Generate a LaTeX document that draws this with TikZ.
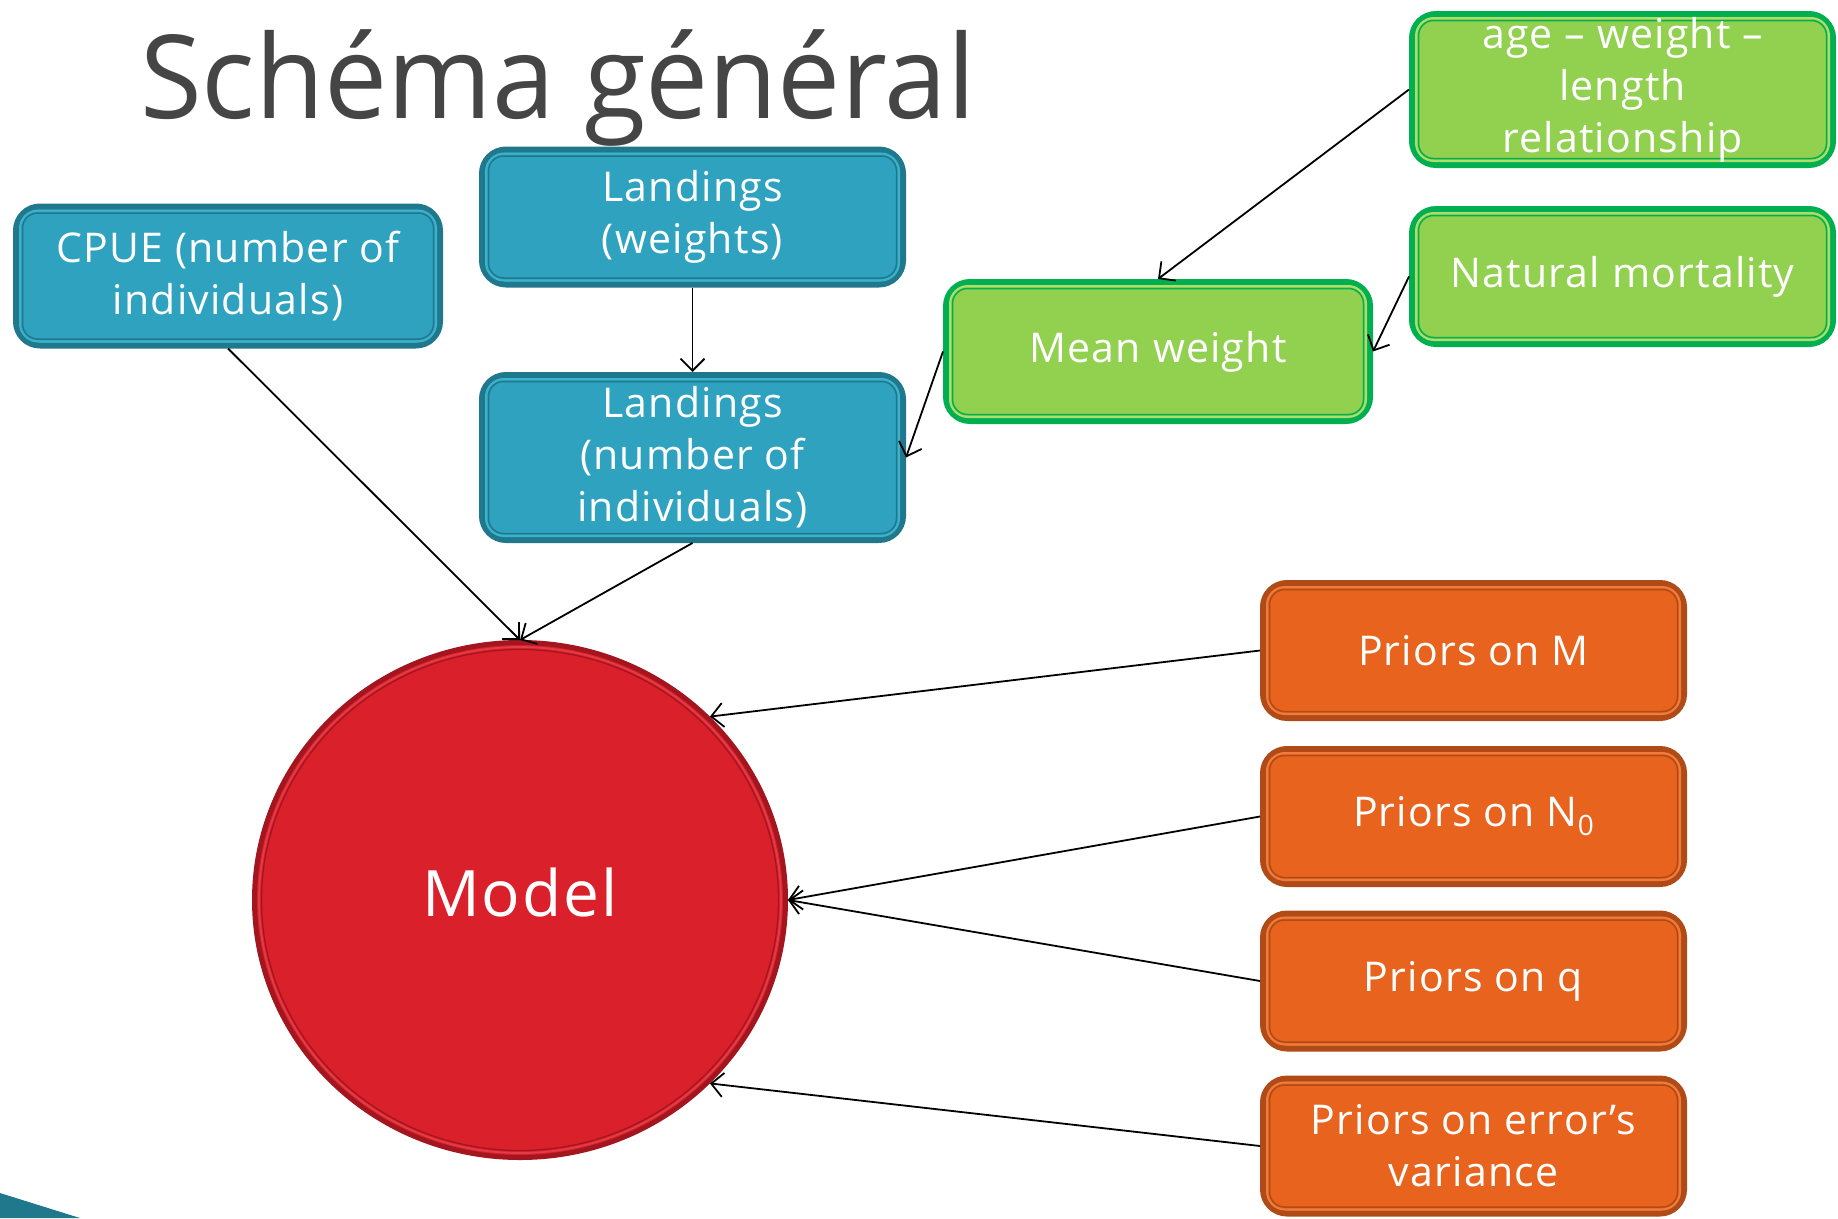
\documentclass[tikz,border=0pt]{standalone}
\usepackage{fontspec}
\setmainfont[LetterSpace=3]{Open Sans}
\newfontfamily\titlefont[FakeStretch=0.97]{Open Sans}
\usetikzlibrary{arrows.meta,shapes.geometric}
\definecolor{cTF}{HTML}{2EA2BF}
\definecolor{cTD}{HTML}{1F788B}
\definecolor{cTL}{HTML}{3DB2CC}
\definecolor{cGF}{HTML}{92D050}
\definecolor{cGD}{HTML}{00B050}
\definecolor{cGL}{HTML}{ADDD6C}
\definecolor{cOF}{HTML}{E8641E}
\definecolor{cOD}{HTML}{B04A16}
\definecolor{cOL}{HTML}{EF7C3C}
\definecolor{cRF}{HTML}{D9202B}
\definecolor{cRD}{HTML}{A3161F}
\definecolor{cRL}{HTML}{E23C46}
\definecolor{titlegray}{HTML}{454545}
\newcommand\drawbox[7]{%
  \node[bx, fill=#2F, draw=#2D, minimum width=#5-6, minimum height=#6-6] (#1) at (#3,-#4) {};
  \draw[#2L, line width=2pt, rounded corners=18pt] ([shift={(7,-7)}]#1.north west) rectangle ([shift={(-7,7)}]#1.south east);
  \draw[#2D, line width=1.5pt, rounded corners=15pt] ([shift={(9.5,-9.5)}]#1.north west) rectangle ([shift={(-9.5,9.5)}]#1.south east);
  \node[lbl] (#1t) at (#1) {#7};
}
\begin{document}
\begin{tikzpicture}[x=1pt,y=1pt,
  bx/.style={rectangle, rounded corners=24pt, line width=6pt, inner sep=0pt},
  lbl/.style={text=white, align=center, font=\fontsize{41}{52}\selectfont, inner sep=0pt},
  conn/.style={line width=1.8pt, -{Straight Barb[length=12pt,width=24pt]}}
]
\useasboundingbox (0,0) rectangle (1838,-1218);

% title
\node[anchor=base west, text=titlegray, inner sep=0pt,
      font=\titlefont\fontsize{116}{120}\selectfont] (title) at (140,-118) {Schéma général};

% slide decoration
\fill[cTD] (0,-1193) -- (80,-1218) -- (0,-1218) -- cycle;

% boxes
\drawbox{cpue}{cT}{228}{276}{430}{145}{CPUE (number of\\individuals)}
\drawbox{landw}{cT}{692.5}{217}{427}{141}{Landings\\(weights)}
\drawbox{landn}{cT}{692.5}{457.5}{427}{171}{Landings\\(number of\\individuals)}
\drawbox{mean}{cG}{1158}{351.5}{430}{145}{Mean weight}
\drawbox{age}{cG}{1622.5}{89.5}{427}{157}{age – weight –\\length\\relationship}
\drawbox{nat}{cG}{1622.5}{276.5}{427}{141}{Natural mortality}
\drawbox{pm}{cO}{1473.5}{650.5}{427}{141}{Priors on M}
\drawbox{pn}{cO}{1473.5}{816.5}{427}{141}{Priors on N\raisebox{-0.22em}{\fontsize{28}{28}\selectfont 0}}
\drawbox{pq}{cO}{1473.5}{981}{427}{141}{Priors on q}
\drawbox{pe}{cO}{1473.5}{1146}{427}{141}{Priors on error’s\\variance}

% model
\node[ellipse, fill=cRF, draw=cRD, line width=5pt, inner sep=0pt,
      minimum width=531, minimum height=515] (model) at (520,-900) {};
\draw[cRL, line width=1.8pt] (model.center) ellipse [x radius=261, y radius=253];
\draw[cRD, line width=1.3pt] (model.center) ellipse [x radius=258.5, y radius=250.5];
\node[text=white, inner sep=0pt, font=\fontsize{64}{70}\selectfont] (modelt) at ([yshift=8]model.center) {Model};

% connectors
\draw[conn] (cpue.south) -- (model.north);
\draw[conn] (landn.south) -- (model.north);
\draw[conn] (landw.south) -- (landn.north);
\draw[conn] (mean.west) -- (landn.east);
\draw[conn] (age.west) -- (mean.north);
\draw[conn] (nat.west) -- (mean.east);
\draw[conn] (pm.west) -- (model.44);
\draw[conn] (pn.west) -- (model.east);
\draw[conn] (pq.west) -- (model.east);
\draw[conn] (pe.west) -- (model.-44);
\end{tikzpicture}
\end{document}
